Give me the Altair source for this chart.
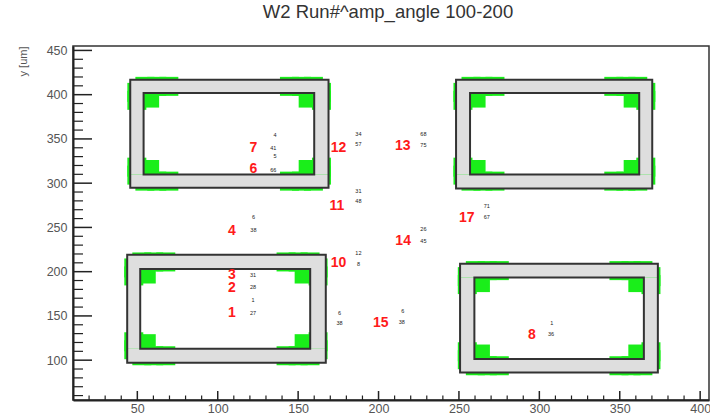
import altair as alt
import pandas as pd

TITLE = "W2 Run#^amp_angle 100-200"
Y_TITLE = "y [um]"

# axis ticks
x_major = [50, 100, 150, 200, 250, 300, 350, 400]
y_major = [100, 150, 200, 250, 300, 350, 400, 450]
x_minor = [v for v in range(20, 406, 10) if v % 50]
y_minor = [v for v in range(60, 455, 10) if v % 50]

# frames (outer / inner rectangles)
frame_ox1 = [45.6, 248.2, 43.7, 250.7]
frame_ox2 = [168.9, 370.2, 167.2, 373.7]
frame_oy1 = [294.8, 294.0, 97.0, 86.0]
frame_oy2 = [417.0, 417.0, 219.0, 209.0]
frame_ix1 = [53.9, 256.9, 51.8, 259.6]
frame_ix2 = [160.0, 362.1, 157.5, 365.0]
frame_iy1 = [309.8, 309.8, 113.0, 101.3]
frame_iy2 = [401.8, 401.8, 203.0, 193.3]

# green hits along the frame bands
hits_tl_x = [54.7, 62.1, 69.6, 159.5, 152.1, 144.6, 54.7, 62.1, 69.6, 159.5, 152.1, 144.6,
             49.7, 49.7, 49.7, 49.7, 164.5, 164.5, 164.5, 164.5]
hits_tl_y = [409.4, 409.4, 409.4, 409.4, 409.4, 409.4, 302.3, 302.3, 302.3, 302.3, 302.3, 302.3,
             402.6, 393.6, 309.1, 318.1, 402.6, 393.6, 309.1, 318.1]
hits_tr_x = [257.5, 264.9, 272.4, 361.2, 353.8, 346.3, 257.5, 264.9, 272.4, 361.2, 353.8, 346.3,
             252.5, 252.5, 252.5, 252.5, 366.2, 366.2, 366.2, 366.2]
hits_tr_y = [409.4, 409.4, 409.4, 409.4, 409.4, 409.4, 302.3, 302.3, 302.3, 302.3, 302.3, 302.3,
             402.6, 393.6, 309.1, 318.1, 402.6, 393.6, 309.1, 318.1]
hits_bl_x = [52.8, 60.2, 67.7, 157.4, 150.0, 142.5, 52.8, 60.2, 67.7, 157.4, 150.0, 142.5,
             47.8, 47.8, 47.8, 47.8, 162.4, 162.4, 162.4, 162.4]
hits_bl_y = [211.0, 211.0, 211.0, 211.0, 211.0, 211.0, 105.0, 105.0, 105.0, 105.0, 105.0, 105.0,
             204.2, 195.2, 111.8, 120.8, 204.2, 195.2, 111.8, 120.8]
hits_br_x = [260.2, 267.6, 275.1, 364.4, 357.0, 349.5, 260.2, 267.6, 275.1, 364.4, 357.0, 349.5,
             255.2, 255.2, 255.2, 255.2, 369.4, 369.4, 369.4, 369.4]
hits_br_y = [201.2, 201.2, 201.2, 201.2, 201.2, 201.2, 93.7, 93.7, 93.7, 93.7, 93.7, 93.7,
             194.4, 185.4, 100.5, 109.5, 194.4, 185.4, 100.5, 109.5]

# green blobs at the inner corners
blob_x = [58.9, 155.0, 58.9, 155.0, 261.9, 357.1, 261.9, 357.1,
          56.8, 152.5, 56.8, 152.5, 264.6, 360.0, 264.6, 360.0]
blob_y = [393.9, 393.9, 317.7, 317.7, 393.9, 393.9, 317.7, 317.7,
          195.1, 195.1, 120.9, 120.9, 185.4, 185.4, 109.2, 109.2]

# red channel labels
red_text = ["7", "6", "12", "13", "11", "4", "17", "14", "10", "3", "2", "1", "15", "8"]
red_x = [122.1, 122.1, 175.1, 215.1, 174.1, 108.8, 254.9, 215.3, 175.1, 108.8, 108.8, 108.8, 201.4, 295.3]
red_y = [340.2, 316.3, 340.0, 342.0, 274.7, 245.7, 260.8, 235.0, 209.4, 196.7, 181.6, 152.9, 141.5, 128.8]

# small black annotations
small_text = ["4", "41", "5", "66", "34", "57", "68", "75", "31", "48", "6", "38", "71", "67",
              "26", "45", "12", "8", "31", "28", "1", "27", "6", "38", "6", "38", "1", "36"]
small_x = [135.7, 134.5, 135.7, 134.5, 187.5, 187.5, 227.9, 227.9, 187.5, 187.5, 122.2, 122.2, 267.3, 267.3,
           227.9, 227.9, 187.5, 187.5, 121.9, 121.9, 121.9, 121.9, 175.7, 175.7, 215.1, 214.5, 307.7, 307.3]
small_y = [354.0, 340.0, 330.2, 315.1, 355.9, 344.6, 355.1, 342.6, 290.6, 279.6, 262.3, 247.2, 274.7, 261.5,
           248.4, 235.1, 220.8, 208.8, 196.7, 182.3, 168.4, 152.9, 152.9, 141.5, 155.1, 142.7, 141.5, 129.6]

W, H = 636, 354
FONT = "Liberation Sans"
xs = alt.Scale(domain=[10, 405.5], nice=False, zero=False)
ys = alt.Scale(domain=[55, 455], nice=False, zero=False)

# tables
hits = pd.DataFrame({
    "x": hits_tl_x + hits_tr_x + hits_bl_x + hits_br_x,
    "y": hits_tl_y + hits_tr_y + hits_bl_y + hits_br_y,
})
blobs = pd.DataFrame({"x": blob_x, "y": blob_y})
outer = pd.DataFrame({"x": frame_ox1, "x2": frame_ox2, "y": frame_oy1, "y2": frame_oy2})
inner = pd.DataFrame({"x": frame_ix1, "x2": frame_ix2, "y": frame_iy1, "y2": frame_iy2})
band_rows = []
for i in range(4):
    band_rows.append((frame_ox1[i], frame_ox2[i], frame_iy2[i], frame_oy2[i]))
    band_rows.append((frame_ox1[i], frame_ox2[i], frame_oy1[i], frame_iy1[i]))
    band_rows.append((frame_ox1[i], frame_ix1[i], frame_iy1[i], frame_iy2[i]))
    band_rows.append((frame_ix2[i], frame_ox2[i], frame_iy1[i], frame_iy2[i]))
band = pd.DataFrame(band_rows, columns=["x", "x2", "y", "y2"])
reds = pd.DataFrame({"t": red_text, "x": red_x, "y": red_y})
smalls = pd.DataFrame({"t": small_text, "x": small_x, "y": small_y})
xmaj = pd.DataFrame({"x": x_major})
xmin = pd.DataFrame({"x": x_minor})
ymaj = pd.DataFrame({"y": y_major})
ymin = pd.DataFrame({"y": y_minor})

x_axis = alt.Axis(values=x_major, ticks=False, tickSize=0, grid=False, title=None,
                  domainColor="#222", domainWidth=2, labelFontSize=12.5, labelColor="#555",
                  labelFont=FONT, labelPadding=2)
y_axis = alt.Axis(values=y_major, ticks=False, tickSize=0, grid=False, title=Y_TITLE,
                  domainColor="#222", domainWidth=2, labelFontSize=12.5, labelColor="#555",
                  labelFont=FONT, labelPadding=6,
                  titleFont=FONT, titleFontSize=11, titleFontWeight="normal", titleColor="#555",
                  titleX=-50, titleY=0, titleAngle=270, titleAlign="right", titleBaseline="middle")


def X(f="x"):
    return alt.X(f"{f}:Q", scale=xs, axis=x_axis)


def Y(f="y"):
    return alt.Y(f"{f}:Q", scale=ys, axis=y_axis)


green_l = alt.Chart(hits).mark_square(size=361, color="#1aee1a", opacity=1).encode(x=X(), y=Y())
blob_l = alt.Chart(blobs).mark_square(size=225, color="#1aee1a", opacity=1).encode(x=X(), y=Y())
band_l = alt.Chart(band).mark_rect(color="#dedede").encode(x=X(), x2="x2:Q", y=Y(), y2="y2:Q")
outer_l = alt.Chart(outer).mark_rect(fillOpacity=0, stroke="#333", strokeWidth=2).encode(
    x=X(), x2="x2:Q", y=Y(), y2="y2:Q")
inner_l = alt.Chart(inner).mark_rect(fillOpacity=0, stroke="#333", strokeWidth=2).encode(
    x=X(), x2="x2:Q", y=Y(), y2="y2:Q")

xmaj_l = alt.Chart(xmaj).mark_rule(color="#222", strokeWidth=1.5).encode(
    x=X(), y=alt.value(H), y2=alt.value(H - 9))
xmin_l = alt.Chart(xmin).mark_rule(color="#222", strokeWidth=1.2).encode(
    x=X(), y=alt.value(H), y2=alt.value(H - 4.5))
ymaj_l = alt.Chart(ymaj).mark_rule(color="#222", strokeWidth=1.5).encode(
    y=Y(), x=alt.value(0), x2=alt.value(19))
ymin_l = alt.Chart(ymin).mark_rule(color="#222", strokeWidth=1.2).encode(
    y=Y(), x=alt.value(0), x2=alt.value(10))

small_l = alt.Chart(smalls).mark_text(fontSize=5.5, color="#222", font=FONT).encode(
    x=X(), y=Y(), text="t:N")
red_l = alt.Chart(reds).mark_text(fontSize=14, fontWeight="bold", color="#ff1a1a", font=FONT).encode(
    x=X(), y=Y(), text="t:N")

chart = alt.layer(
    green_l, blob_l, band_l, outer_l, inner_l, xmin_l, xmaj_l, ymin_l, ymaj_l, small_l, red_l
).properties(
    width=W, height=H,
    title=alt.TitleParams(text=TITLE, fontSize=18.5, font=FONT, fontWeight="normal", color="#333",
                          anchor="middle", offset=8, baseline="alphabetic", dx=-3),
    padding={"left": 73, "top": 46, "right": 1, "bottom": 14},
    autosize=alt.AutoSizeParams(type="none"),
    background="white",
).configure_view(stroke="#333", strokeWidth=1.5)

chart.save("out.html", embed_options={"renderer": "svg", "actions": False})
